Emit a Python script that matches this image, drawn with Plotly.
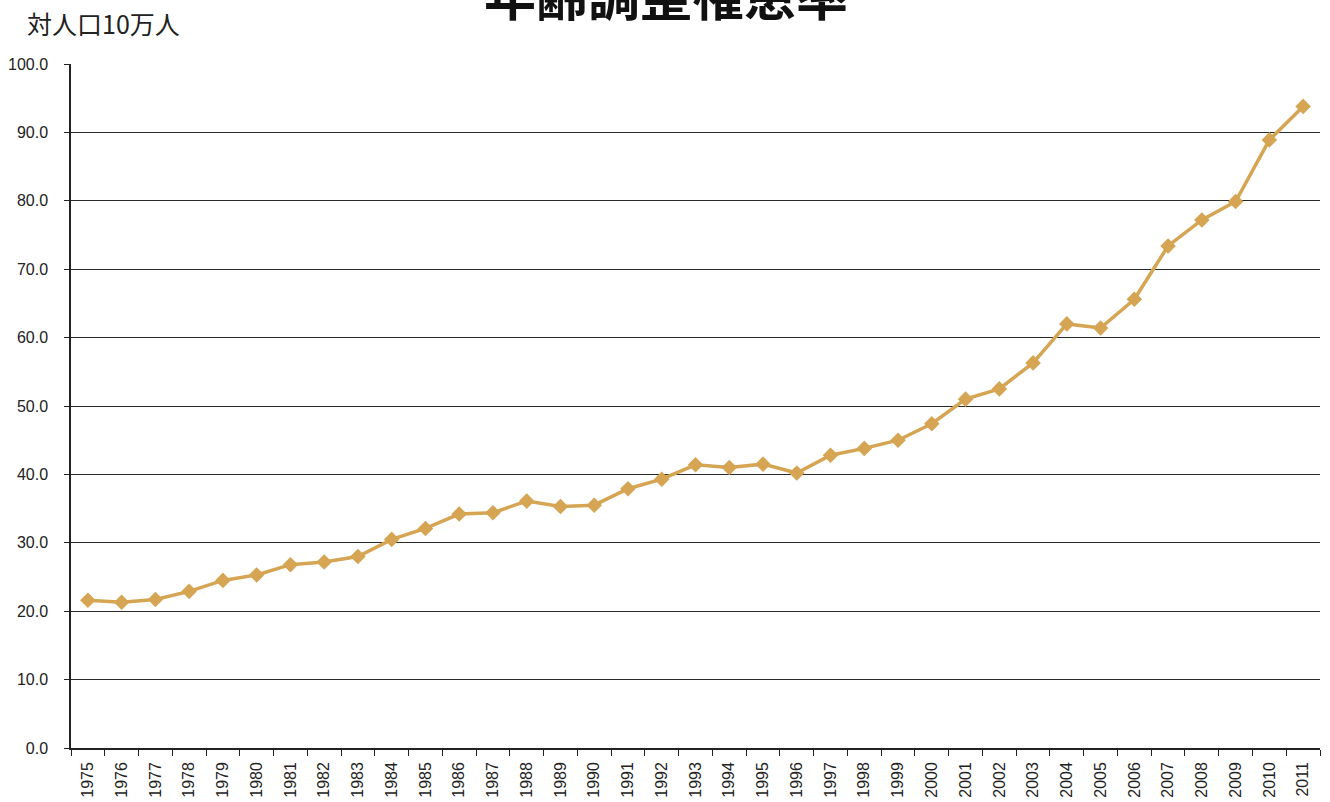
import plotly.graph_objects as go

years = [str(y) for y in range(1975, 2012)]
rates = [21.6, 21.3, 21.7, 22.9, 24.5, 25.3, 26.8, 27.2, 28.0, 30.5,
         32.1, 34.2, 34.4, 36.1, 35.3, 35.5, 37.9, 39.3, 41.4, 41.0,
         41.5, 40.2, 42.8, 43.8, 45.0, 47.4, 51.0, 52.5, 56.3, 62.0,
         61.4, 65.6, 73.4, 77.2, 79.9, 88.9, 93.8]

title_text = "<b>年齢調整罹患率</b>"
unit_text = "対人口10万人"
line_color = "#D6A553"

fig = go.Figure()
fig.add_trace(go.Scatter(
    x=years, y=rates, mode="lines+markers",
    line=dict(color=line_color, width=3.5),
    marker=dict(symbol="diamond", size=12, color=line_color),
    showlegend=False,
))

cjk = "Noto Sans CJK JP, Noto Sans, sans-serif"
latin = "Liberation Sans, Arial, sans-serif"

fig.update_layout(
    width=1330, height=802,
    margin=dict(l=71, r=10, t=64, b=54),
    paper_bgcolor="white", plot_bgcolor="white",
    font=dict(family=latin, color="#222"),
    xaxis=dict(
        type="category", tickson="boundaries", ticks="outside", ticklen=6,
        tickcolor="#222", showline=True, linecolor="#222", linewidth=1.5,
        showgrid=False, tickangle=-90, tickfont=dict(size=16, color="#222"),
        range=[-0.5, len(years) - 0.5], automargin=False, ticklabelstandoff=6,
    ),
    yaxis=dict(
        range=[0, 100], dtick=10, tickformat=".1f", ticks="outside", ticklen=5,
        tickcolor="#222", showline=True, linecolor="#222", linewidth=1.5,
        showgrid=True, gridcolor="#2a2a2a", gridwidth=1.2,
        tickfont=dict(size=16, color="#222"), zeroline=False, automargin=False,
        ticklabelstandoff=13,
    ),
    annotations=[
        dict(text=title_text, xref="paper", yref="paper", x=0.4765, y=1.045,
             xanchor="center", yanchor="bottom", showarrow=False,
             font=dict(size=52, family=cjk, color="#111")),
        dict(text=unit_text, xref="paper", yref="paper", x=-0.037, y=1.03,
             xanchor="left", yanchor="bottom", showarrow=False,
             font=dict(size=25, family=cjk, color="#222")),
    ],
)

fig.write_html("out.html", config={"displayModeBar": False},
               post_script="document.body.style.margin='0';")
